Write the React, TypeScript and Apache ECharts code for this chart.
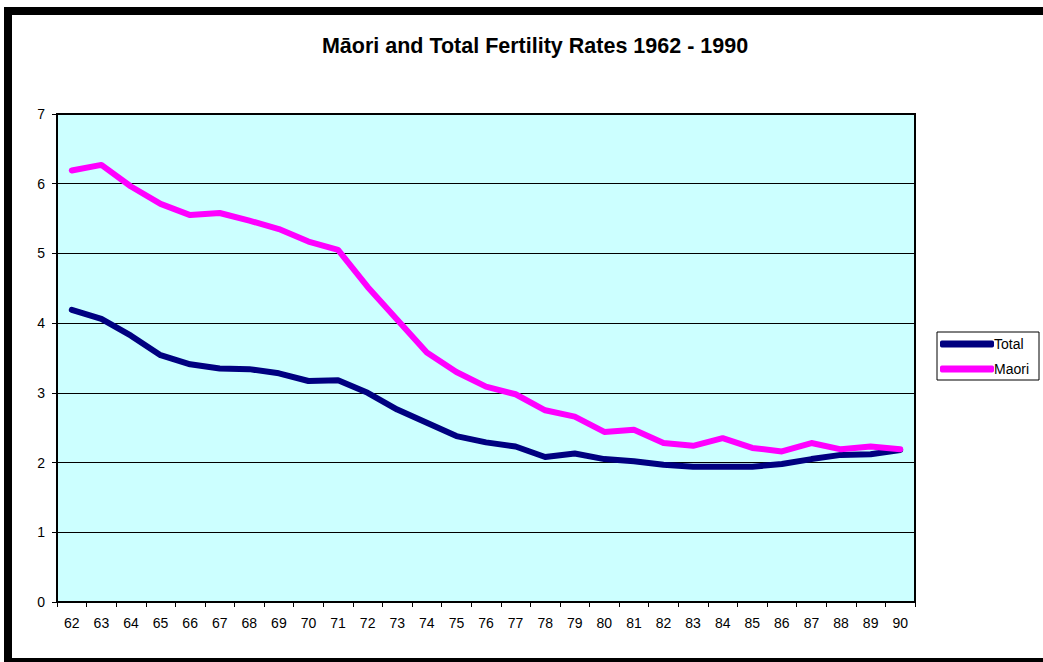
import React, { useEffect, useRef } from "react";
import * as echarts from "echarts";

const years = ["62","63","64","65","66","67","68","69","70","71","72","73","74","75","76","77","78","79","80","81","82","83","84","85","86","87","88","89","90"];
const totalRates = [4.19,4.06,3.82,3.54,3.41,3.35,3.34,3.28,3.17,3.18,3.0,2.76,2.57,2.38,2.29,2.23,2.08,2.13,2.05,2.02,1.97,1.94,1.94,1.94,1.98,2.05,2.11,2.12,2.18];
const maoriRates = [6.19,6.27,5.96,5.71,5.55,5.58,5.47,5.35,5.17,5.05,4.52,4.05,3.58,3.30,3.09,2.98,2.75,2.66,2.44,2.47,2.28,2.24,2.35,2.21,2.16,2.28,2.19,2.23,2.19];
const yTicks = [0,1,2,3,4,5,6,7];

export default function App() {
  const ref = useRef<HTMLDivElement>(null);
  useEffect(() => {
    document.body.style.margin = "0";
    const chart = echarts.init(ref.current!, null, { renderer: "svg" });
    const font = "Arial, 'Liberation Sans', sans-serif";
    chart.setOption({
      animation: false,
      backgroundColor: "#ffffff",
      textStyle: { fontFamily: font },
      title: {
        text: "Māori and Total Fertility Rates 1962 - 1990",
        left: 530,
        textAlign: "center",
        top: 30,
        textStyle: { fontSize: 21.5, fontWeight: "bold", color: "#000", fontFamily: font },
      },
      legend: {
        orient: "vertical",
        left: 937,
        top: 332,
        padding: [5, 10, 4, 3],
        itemGap: 11,
        itemWidth: 54,
        itemHeight: 7,
        icon: "roundRect",
        borderColor: "#000",
        borderWidth: 1,
        backgroundColor: "#fff",
        textStyle: { fontSize: 14, color: "#000", fontFamily: font, padding: [0, 0, 0, -5] },
        data: ["Total", "Maori"],
      },
      grid: {
        left: 57,
        top: 114,
        width: 858,
        height: 488,
        show: true,
        backgroundColor: "#CCFFFF",
        borderColor: "#000",
        borderWidth: 2,
        containLabel: false,
      },
      xAxis: {
        type: "category",
        data: years,
        boundaryGap: true,
        axisLine: { show: true, lineStyle: { color: "#000", width: 2 } },
        axisTick: { show: true, interval: 0, length: 5, lineStyle: { color: "#000", width: 1 } },
        axisLabel: { interval: 0, margin: 14, fontSize: 14, color: "#000", fontFamily: font },
        splitLine: { show: false },
      },
      yAxis: {
        type: "value",
        min: yTicks[0],
        max: yTicks[yTicks.length - 1],
        interval: 1,
        axisLine: { show: true, lineStyle: { color: "#000", width: 2 } },
        axisTick: { show: true, length: 5, lineStyle: { color: "#000", width: 1 } },
        axisLabel: { margin: 12, fontSize: 14, color: "#000", fontFamily: font },
        splitLine: { show: true, lineStyle: { color: "#000", width: 1 } },
      },
      series: [
        {
          name: "Total",
          type: "line",
          data: totalRates,
          symbol: "none",
          lineStyle: { color: "#000080", width: 6, cap: "round", join: "round" },
          itemStyle: { color: "#000080" },
        },
        {
          name: "Maori",
          type: "line",
          data: maoriRates,
          symbol: "none",
          lineStyle: { color: "#FF00FF", width: 6, cap: "round", join: "round" },
          itemStyle: { color: "#FF00FF" },
        },
      ],
      graphic: [
        {
          type: "rect",
          shape: { x: 8, y: 11, width: 1040, height: 651 },
          style: { fill: "none", stroke: "#000", lineWidth: 8 },
          silent: true,
        },
      ],
    });
    return () => chart.dispose();
  }, []);
  return <div ref={ref} style={{ width: 1043, height: 662 }} />;
}
